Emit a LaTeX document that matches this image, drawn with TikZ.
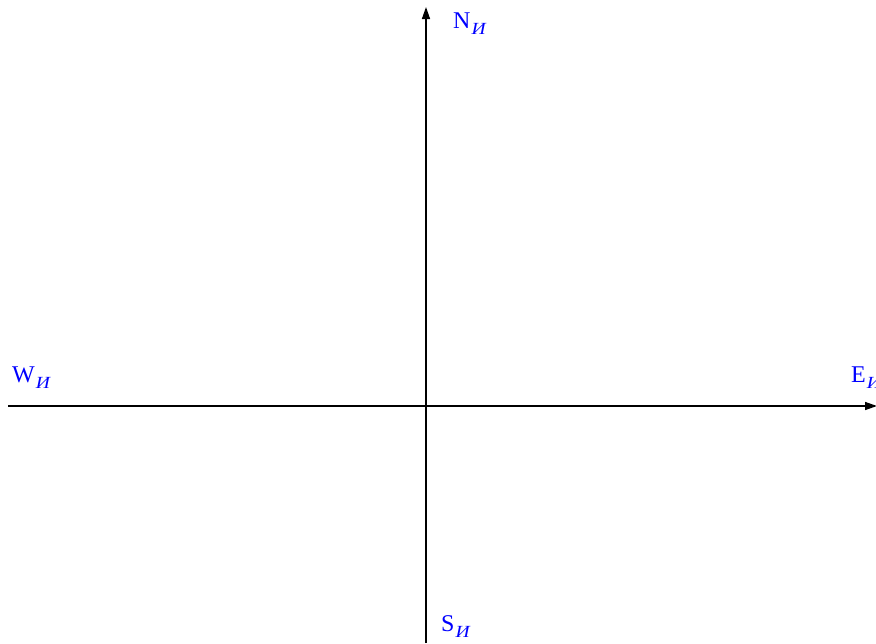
\documentclass[tikz,border=0pt]{standalone}
\usepackage{fontspec}
\setmainfont{Liberation Serif}
\usetikzlibrary{arrows.meta}
\definecolor{labblue}{RGB}{0,0,255}
\tikzset{
  axis/.style={line width=1.4pt, -{Triangle[length=12pt,width=8pt]}},
  lab/.style={text=labblue, font=\fontsize{24}{26}\selectfont, inner sep=0pt, anchor=base west},
}
\newcommand{\subI}{\hspace{1pt}\raisebox{-6.5pt}{\scalebox{1.15}[1]{\fontsize{17}{17}\selectfont\itshape И}}}
\begin{document}
\begin{tikzpicture}[x=1pt,y=-1pt]
\useasboundingbox (0,0) rectangle (876,643);
\coordinate (west) at (8,406);
\coordinate (east) at (877,406);
\coordinate (south) at (426,643);
\coordinate (north) at (426,7);
\draw[axis] (west) -- (east);
\draw[axis] (south) -- (north);
\node[lab] (N) at (453,28) {N\subI};
\node[lab] (W) at (12,382) {W\subI};
\node[lab] (E) at (851,382) {E\subI};
\node[lab] (S) at (441,631) {S\subI};
\end{tikzpicture}
\end{document}
